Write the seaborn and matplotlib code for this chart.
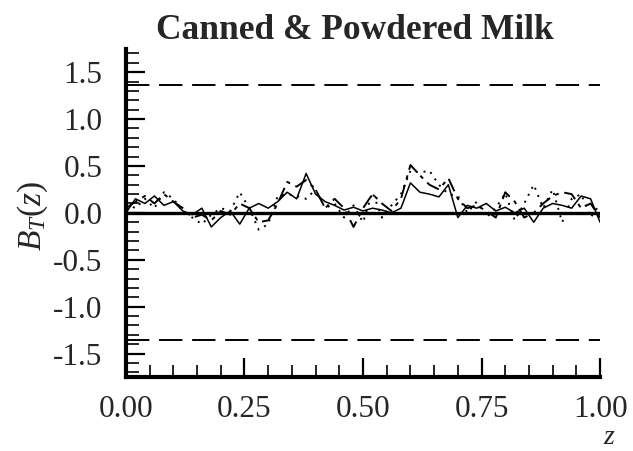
import numpy as np
import pandas as pd
import matplotlib
matplotlib.use("Agg")
import matplotlib.pyplot as plt
import seaborn as sns

# Evaluation grid
z = [round(0.02 * i, 2) for i in range(51)]

# Three estimated bridge paths
solid_vals = [0.00, 0.15, 0.10, 0.18, 0.08, 0.12, 0.02, -0.02, 0.05, -0.15,
              -0.05, 0.02, -0.12, 0.05, 0.10, 0.05, 0.12, 0.22, 0.15, 0.42,
              0.20, 0.12, 0.08, 0.03, 0.06, 0.02, 0.05, 0.03, 0.00, 0.05,
              0.32, 0.22, 0.20, 0.17, 0.30, -0.05, 0.08, 0.05, 0.10, 0.02,
              0.06, 0.00, 0.05, -0.10, 0.05, 0.10, 0.08, 0.05, 0.18, 0.15,
              -0.10]
dashdot_vals = [0.05, 0.12, 0.18, 0.10, 0.20, 0.12, 0.05, -0.05, -0.02, -0.08,
                0.02, -0.02, 0.10, 0.05, -0.10, -0.08, 0.10, 0.33, 0.28, 0.35,
                0.25, 0.05, 0.15, 0.05, -0.15, 0.05, 0.20, 0.10, 0.02, 0.15,
                0.51, 0.40, 0.30, 0.25, 0.37, 0.15, 0.05, 0.08, 0.02, -0.05,
                0.22, 0.12, -0.05, 0.00, 0.10, 0.18, 0.22, 0.20, 0.05, 0.10,
                -0.05]
dotted_vals = [0.10, 0.05, 0.15, 0.05, 0.22, 0.15, 0.02, -0.05, -0.12, -0.02,
               0.05, 0.02, 0.22, 0.05, -0.18, -0.12, 0.18, 0.20, 0.18, 0.15,
               0.25, 0.05, 0.10, -0.05, 0.08, -0.10, 0.22, -0.05, 0.08, 0.20,
               0.45, 0.43, 0.45, 0.30, 0.20, 0.18, 0.00, 0.12, -0.05, 0.05,
               0.21, -0.08, 0.10, 0.30, 0.05, 0.25, -0.10, 0.15, 0.20, -0.05,
               0.10]

# 5% critical value of the Kolmogorov-Smirnov bridge
crit = 1.358

xtick_vals = [0.0, 0.25, 0.5, 0.75, 1.0]
xtick_labels = ["0.00", "0.25", "0.50", "0.75", "1.00"]
ytick_vals = [1.5, 1.0, 0.5, 0.0, -0.5, -1.0, -1.5]
ytick_labels = ["1.5", "1.0", "0.5", "0.0", "-0.5", "-1.0", "-1.5"]

sns.set_style("ticks")
plt.rcParams["font.family"] = ["Liberation Serif", "DejaVu Serif"]
plt.rcParams["mathtext.fontset"] = "custom"
plt.rcParams["mathtext.rm"] = "Liberation Serif"
plt.rcParams["mathtext.it"] = "Liberation Serif:italic"

df = pd.DataFrame({"z": z, "solid": solid_vals, "dashdot": dashdot_vals,
                   "dotted": dotted_vals})

fig = plt.figure(figsize=(6.33, 4.51), dpi=100)
ax = fig.add_axes([0.199, 0.164, 0.749, 0.728])

sns.lineplot(data=df, x="z", y="solid", ax=ax, color="black", lw=1.1)
sns.lineplot(data=df, x="z", y="dashdot", ax=ax, color="black", lw=1.4)
ax.lines[-1].set_dashes([7, 3, 2, 3])
sns.lineplot(data=df, x="z", y="dotted", ax=ax, color="black", lw=1.4)
ax.lines[-1].set_dashes([1, 3])

# Zero reference and critical bands
ax.axhline(0.0, color="black", lw=2.4)
ax.axhline(crit, color="black", lw=1.4, dashes=(12, 5))
ax.axhline(-crit, color="black", lw=1.4, dashes=(12, 5))

ax.set_xlim(0, 1.0)
ax.set_ylim(-1.75, 1.75)

ax.set_xticks(xtick_vals)
ax.set_xticklabels(xtick_labels)
ax.set_xticks(np.arange(0, 1.0001, 0.05), minor=True)
ax.set_yticks(ytick_vals)
ax.set_yticklabels(ytick_labels)
ax.set_yticks(np.arange(-1.7, 1.7001, 0.1), minor=True)

ax.tick_params(axis="both", which="major", direction="in", length=14,
               width=1.6, labelsize=22.5, color="black")
ax.tick_params(axis="both", which="minor", direction="in", length=9,
               width=1.2, color="black")
ax.tick_params(axis="x", which="major", pad=13)
ax.tick_params(axis="y", which="major", pad=17)

for side in ["top", "right"]:
    ax.spines[side].set_visible(False)
for side in ["left", "bottom"]:
    ax.spines[side].set_linewidth(3.0)
    ax.spines[side].set_color("black")

ax.set_xlabel("")
ax.set_ylabel("")
fig.text(0.052, 0.52, r"$B_T(z)$", rotation=90, fontsize=24,
         ha="center", va="center")
fig.text(0.961, 0.029, "z", fontsize=20, style="italic", ha="center",
         va="center")
fig.text(0.56, 0.933, "Canned & Powdered Milk", fontsize=25.5,
         fontweight="bold", ha="center", va="center")

fig.savefig("out.png", dpi=100, facecolor="white")
